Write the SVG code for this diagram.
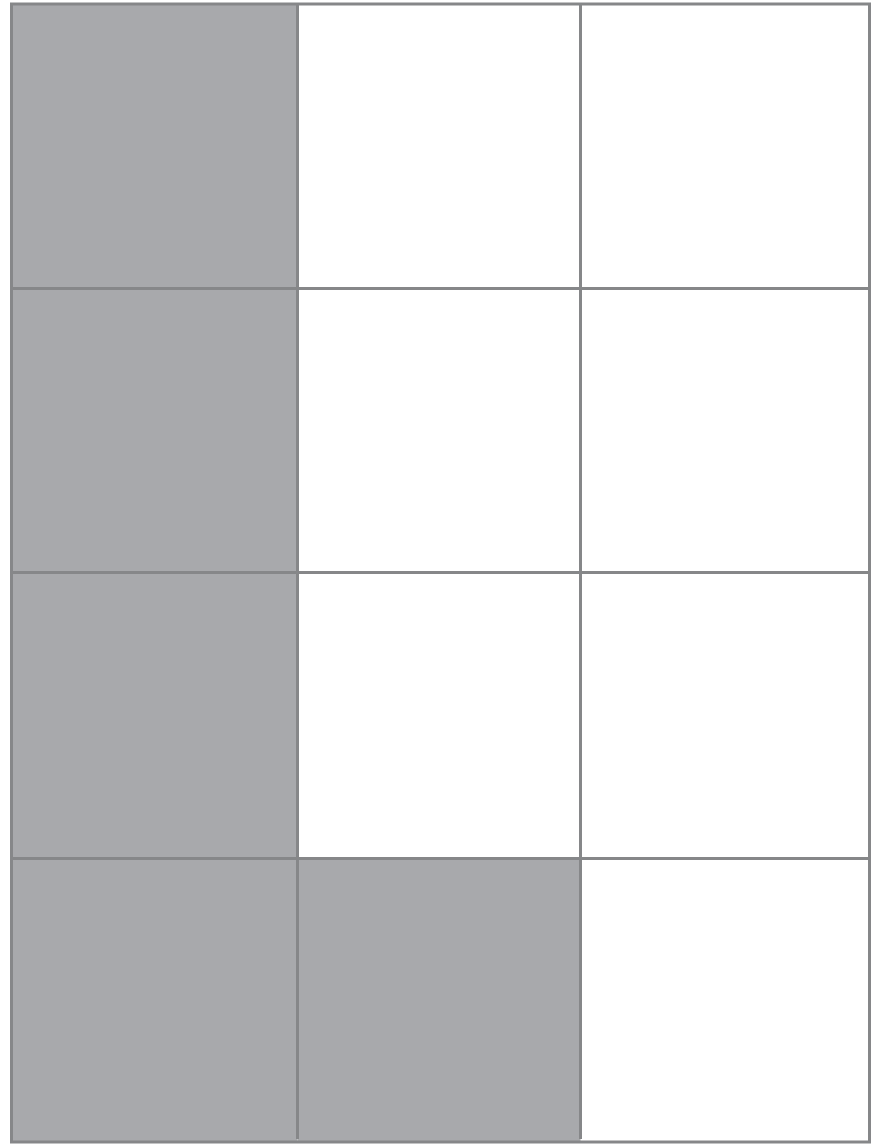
<svg xmlns="http://www.w3.org/2000/svg" width="881" height="1144" viewBox="0 0 881 1144">
<style>
.g{fill:#a8a9ac}
.w{fill:#ffffff}
.ln{stroke:#868789;stroke-width:3;fill:none}
</style>
<rect x="0" y="0" width="881" height="1144" fill="#ffffff"/>
<g id="cells">
<rect id="c11" class="g" x="11.5" y="4" width="286" height="284.5"/>
<rect id="c21" class="g" x="11.5" y="288.5" width="286" height="284"/>
<rect id="c31" class="g" x="11.5" y="572.5" width="286" height="286"/>
<rect id="c41" class="g" x="11.5" y="858.5" width="286" height="283"/>
<rect id="c42" class="g" x="297.5" y="858.5" width="283" height="283"/>
</g>
<g id="lines">
<rect class="ln" x="11.5" y="4" width="858" height="1138"/>
<line class="ln" x1="297.5" y1="4" x2="297.5" y2="1139"/>
<line class="ln" x1="580.5" y1="4" x2="580.5" y2="1139"/>
<line class="ln" x1="11.5" y1="288.5" x2="869.5" y2="288.5"/>
<line class="ln" x1="11.5" y1="572.5" x2="869.5" y2="572.5"/>
<line class="ln" x1="11.5" y1="858.5" x2="869.5" y2="858.5"/>
</g>
</svg>
